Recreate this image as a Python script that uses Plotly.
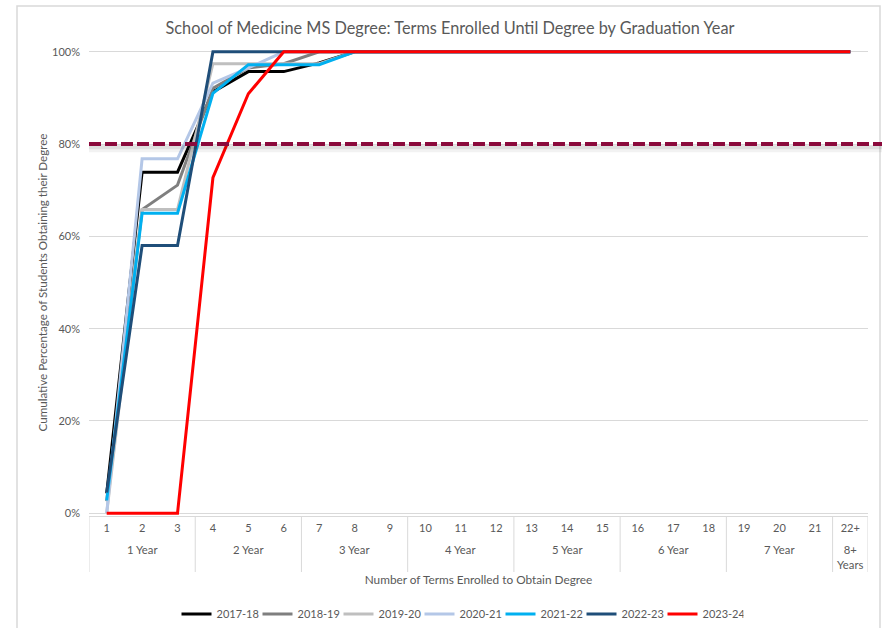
import plotly.graph_objects as go

# Terms enrolled and the year each group of three terms corresponds to
terms = list(range(1, 23))
term_labels = [str(t) for t in range(1, 22)] + ["22+"]
year_labels = ["1 Year", "2 Year", "3 Year", "4 Year", "5 Year", "6 Year", "7 Year", "8+<br>Years"]
year_first_term = [1, 4, 7, 10, 13, 16, 19, 22]
year_last_term = [3, 6, 9, 12, 15, 18, 21, 22]

# Cumulative % of students with degree, by graduation year
pct_2017_18 = [4.3, 73.9, 73.9, 91.3, 95.7, 95.7, 97.6] + [100] * 15
pct_2018_19 = [2.6, 65.8, 71.1, 92.1, 96.5, 97.4] + [100] * 16
pct_2019_20 = [0, 65.8, 65.8, 97.4, 97.4, 97.4, 97.4] + [100] * 15
pct_2020_21 = [0, 76.8, 76.8, 93.2, 96.5] + [100] * 17
pct_2021_22 = [2.8, 65.0, 65.0, 91.0, 97.2, 97.2, 97.2] + [100] * 15
pct_2022_23 = [4.5, 58.0, 58.0] + [100] * 19
pct_2023_24 = [0, 0, 0, 72.7, 90.9] + [100] * 17

series = [
    ("2017-18", pct_2017_18, "#000000"),
    ("2018-19", pct_2018_19, "#7F7F7F"),
    ("2019-20", pct_2019_20, "#BFBFBF"),
    ("2020-21", pct_2020_21, "#B4C7E7"),
    ("2021-22", pct_2021_22, "#00B0F0"),
    ("2022-23", pct_2022_23, "#1F4E79"),
    ("2023-24", pct_2023_24, "#FF0000"),
]

y_ticks = [0, 20, 40, 60, 80, 100]
target_pct = 80

TEXT = "#595959"
GRID = "#D9D9D9"
FONT = "Lato"

fig = go.Figure()
for name, vals, color in series:
    fig.add_trace(go.Scatter(
        x=terms, y=vals, name=name, mode="lines",
        line=dict(color=color, width=3),
    ))

W, H = 882, 628
ML, MR, MT, MB = 89, 14, 49, 112
pw, ph = W - ML - MR, H - MT - MB

def px_x(p):
    return (p - ML) / pw

def px_y(p):
    return (H - MB - p) / ph

# chart frame
fig.add_shape(type="rect", xref="paper", yref="paper",
              x0=px_x(17), x1=px_x(880), y0=px_y(660), y1=px_y(6),
              line=dict(color=GRID, width=1.5), layer="below")

# year group labels and the dividers between groups
for label, t0, t1 in zip(year_labels, year_first_term, year_last_term):
    fig.add_annotation(x=(t0 + t1) / 2, xref="x", y=px_y(541), yref="paper",
                       text=label, showarrow=False, yanchor="top",
                       font=dict(size=11.3, color=TEXT), align="center")
    fig.add_shape(type="line", xref="x", yref="paper",
                  x0=t0 - 0.5, x1=t0 - 0.5, y0=0, y1=px_y(572),
                  line=dict(color=GRID, width=1))
fig.add_shape(type="line", xref="x", yref="paper",
              x0=year_last_term[-1] + 0.5, x1=year_last_term[-1] + 0.5,
              y0=0, y1=px_y(572), line=dict(color=GRID, width=1))

# 80% target line with a soft drop shadow
for dy, w, c in [(-1.0, 7, "rgba(0,0,0,0.05)"), (-0.7, 4, "rgba(0,0,0,0.08)")]:
    fig.add_shape(type="line", xref="paper", yref="y",
                  x0=0, x1=px_x(885), y0=target_pct + dy, y1=target_pct + dy,
                  line=dict(color=c, width=w))
fig.add_shape(type="line", xref="paper", yref="y",
              x0=0, x1=px_x(885), y0=target_pct, y1=target_pct,
              line=dict(color="#8B0A3C", width=4, dash="12px,4px"))

fig.update_layout(
    width=W, height=H,
    margin=dict(l=ML, r=MR, t=MT, b=MB),
    paper_bgcolor="white", plot_bgcolor="white",
    font=dict(family=FONT, color=TEXT, size=11),
    title=dict(text="School of Medicine MS Degree: Terms Enrolled Until Degree by Graduation Year",
               x=450 / W, xref="container", xanchor="center",
               y=1 - 28 / H, yref="container", yanchor="middle",
               font=dict(size=16.3, color=TEXT, family=FONT)),
    xaxis=dict(
        range=[0.5, 22.5], tickvals=terms, ticktext=term_labels,
        showgrid=False, zeroline=False, showline=True, linecolor=GRID, linewidth=1,
        ticks="", tickfont=dict(size=11, color=TEXT), ticklabelstandoff=2,
        title=dict(text="Number of Terms Enrolled to Obtain Degree",
                   font=dict(size=11.8, color=TEXT), standoff=42),
        automargin=False,
    ),
    yaxis=dict(
        range=[-0.6, 100.6], tickvals=y_ticks,
        ticktext=[f"{v}%" for v in y_ticks],
        showgrid=True, gridcolor=GRID, gridwidth=1,
        zeroline=False, showline=False, ticks="",
        tickfont=dict(size=11, color=TEXT), ticklabelstandoff=8,
        title=dict(text="Cumulative Percentage of Students Obtaining their Degree",
                   font=dict(size=11.6, color=TEXT), standoff=1),
        automargin=False,
    ),
    legend=dict(orientation="h", x=460 / W, xref="container", xanchor="center",
                y=1 - 614 / H, yref="container", yanchor="middle",
                font=dict(size=11, color=TEXT), itemwidth=30,
                entrywidth=36, entrywidthmode="pixels",
                bgcolor="rgba(0,0,0,0)"),
    showlegend=True,
)

fig.write_html("out.html")
